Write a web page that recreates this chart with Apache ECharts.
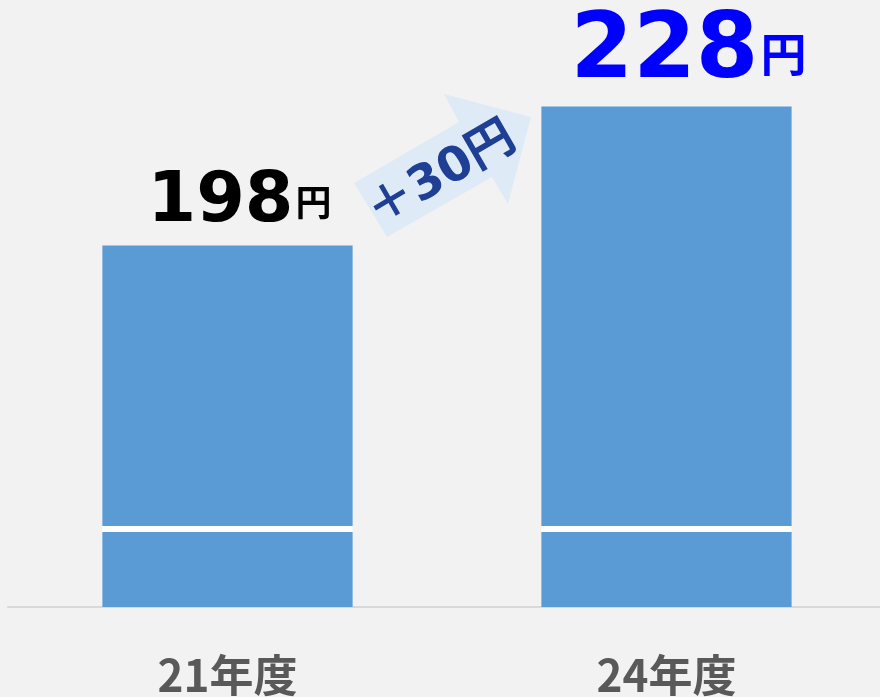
<!DOCTYPE html>
<html>
<head>
<meta charset="utf-8">
<style>
  html, body { margin: 0; padding: 0; background: #f2f2f2; overflow: hidden; }
  #chart { width: 886px; height: 697px; }
</style>
<script src="https://cdn.jsdelivr.net/npm/echarts@6/dist/echarts.min.js"></script>
</head>
<body>
<div id="chart"></div>
<script>
  // data
  const categories = ['21年度', '24年度'];
  const values = [198, 228];
  const unit = '円';
  const diffText = '＋30円';
  // axis is cut at 120; the white band marks the break
  const axisMin = 120;
  const axisMax = 240;
  const breakLow = 136.2;
  const breakHigh = 137.5;

  const labelColors = ['#000000', '#0000ff'];
  const digitSizes = [70, 90];
  const unitSizes = [36, 46];
  const labelShift = [12, 22];

  const chart = echarts.init(document.getElementById('chart'));
  const FONT = '"DejaVu Sans", "Noto Sans CJK JP", sans-serif';

  const topData = values.map((v, i) => ({
    value: v - breakHigh,
    label: {
      offset: [labelShift[i], 0],
      rich: {
        n: { fontSize: digitSizes[i], fontWeight: 'bold', color: labelColors[i], fontFamily: FONT },
        u: { fontSize: unitSizes[i], fontWeight: 'bold', color: labelColors[i], fontFamily: '"Noto Sans CJK JP", sans-serif', padding: [0, 0, 0, 2] }
      }
    }
  }));

  chart.setOption({
    backgroundColor: '#f2f2f2',
    animation: false,
    grid: { left: 8, right: 0, top: 51, bottom: 89 },
    xAxis: {
      type: 'category',
      data: categories,
      axisLine: { lineStyle: { color: '#d9d9d9', width: 2 } },
      axisTick: { show: false },
      axisLabel: {
        margin: 46,
        fontSize: 44,
        fontWeight: 'bold',
        color: '#595959',
        fontFamily: '"Noto Sans CJK JP", sans-serif'
      }
    },
    yAxis: {
      type: 'value',
      min: axisMin,
      max: axisMax,
      show: false,
      splitLine: { show: false }
    },
    graphic: [
      {
        type: 'polygon',
        shape: { points: [[354, 183], [459, 122], [444, 94], [531, 117], [508, 204], [492, 177], [387, 237]] },
        style: { fill: '#deebf7' },
        z: 1
      },
      {
        type: 'text',
        x: 442, y: 176,
        rotation: Math.PI / 6,
        style: {
          text: diffText,
          fill: '#1f3f94',
          font: 'bold 48px ' + FONT,
          align: 'center',
          verticalAlign: 'middle'
        },
        z: 2
      }
    ],
    series: [
      {
        type: 'bar', stack: 'a', barWidth: '57%',
        data: values.map(() => breakLow),
        itemStyle: { color: '#5b9bd5' }
      },
      {
        type: 'bar', stack: 'a',
        data: values.map(() => breakHigh - breakLow),
        itemStyle: { color: '#ffffff' }
      },
      {
        type: 'bar', stack: 'a',
        data: topData,
        itemStyle: { color: '#5b9bd5' },
        label: {
          show: true,
          position: 'top',
          distance: 8,
          formatter: p => '{n|' + values[p.dataIndex] + '}{u|' + unit + '}'
        }
      }
    ]
  });
</script>
</body>
</html>
